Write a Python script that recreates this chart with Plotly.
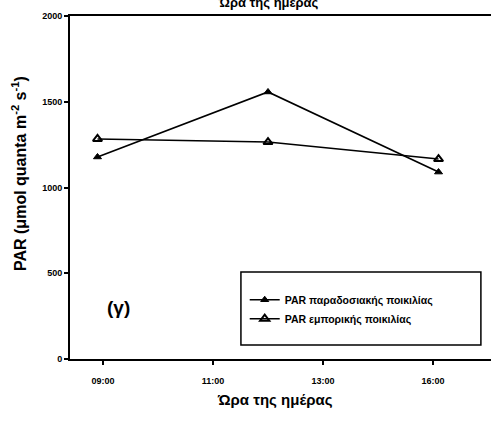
import plotly.graph_objects as go

x_ticks = [0, 1, 2, 3]
x_tick_labels = ["09:00", "11:00", "13:00", "16:00"]
x_points = [-0.05, 1.5, 3.05]
par_trad = [1178, 1557, 1090]
par_comm = [1283, 1265, 1166]
y_ticks = [0, 500, 1000, 1500, 2000]
names = ["<b>PAR παραδοσιακής ποικιλίας</b>", "<b>PAR εμπορικής ποικιλίας</b>"]

FONT = "Liberation Sans, Arial, sans-serif"

fig = go.Figure()
fig.add_trace(go.Scatter(
    x=x_points, y=par_trad, mode="lines+markers", name=names[0],
    line=dict(color="black", width=1.6),
    marker=dict(symbol="triangle-up", size=7, color="black", line=dict(color="black", width=1)),
))
fig.add_trace(go.Scatter(
    x=x_points, y=par_comm, mode="lines+markers", name=names[1],
    line=dict(color="black", width=1.6),
    marker=dict(symbol="triangle-up-open", size=8, color="black", line=dict(color="black", width=2)),
))

fig.update_layout(
    width=491, height=421,
    margin=dict(l=70, r=0, t=16, b=62),
    paper_bgcolor="white", plot_bgcolor="white",
    font=dict(family=FONT, color="black"),
    showlegend=True,
    legend=dict(x=0.415, y=0.215, xanchor="left", yanchor="top",
                bgcolor="rgba(0,0,0,0)", borderwidth=0,
                font=dict(size=10.5, family=FONT), tracegroupgap=0,
                itemwidth=30),
    xaxis=dict(range=[-0.3, 3.527], tickvals=x_ticks, ticktext=["<b>%s</b>" % t for t in x_tick_labels],
               showgrid=False, zeroline=False, showline=True, linecolor="black",
               linewidth=2, mirror=True, ticks="outside", ticklen=4, tickwidth=1.5,
               tickcolor="black", tickfont=dict(size=9, family=FONT), ticklabelstandoff=8),
    yaxis=dict(range=[0, 2000], tickvals=y_ticks, ticktext=["<b>%d</b>" % v for v in y_ticks],
               showgrid=False, zeroline=False, showline=True, linecolor="black",
               linewidth=2, ticks="outside", ticklen=4, tickwidth=1.5,
               tickcolor="black", tickfont=dict(size=9, family=FONT)),
)

fig.add_annotation(text="<b>PAR (μmol quanta m<sup>-2</sup> s<sup>-1</sup>)</b>",
                   xref="paper", yref="paper", x=-0.119, y=0.542, xshift=-13, textangle=-90,
                   showarrow=False, font=dict(size=16, family=FONT))
fig.add_annotation(text="<b>Ώρα της ημέρας</b>", xref="paper", yref="paper", x=0.487, y=-0.149,
                   showarrow=False, font=dict(size=15, family=FONT))
fig.add_shape(type="rect", xref="paper", yref="paper",
              x0=0.406, x1=0.976, y0=0.041, y1=0.254,
              line=dict(color="black", width=1.5), fillcolor="rgba(0,0,0,0)")
fig.add_annotation(text="<b>(γ)</b>", xref="paper", yref="paper", x=0.083, y=0.114,
                   showarrow=False, font=dict(size=19, family=FONT))
fig.add_annotation(text="<b>Ώρα της ημέρας</b>", xref="paper", yref="paper", x=0.47, y=1.0,
                   yanchor="middle", yshift=14, showarrow=False, font=dict(size=13, family=FONT))

fig.write_html("out.html")
